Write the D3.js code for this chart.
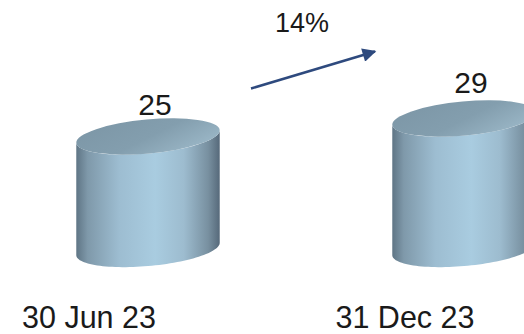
<!DOCTYPE html>
<html>
<head>
<meta charset="utf-8">
<script src="https://cdn.jsdelivr.net/npm/d3@7"></script>
<style>
  html, body { margin: 0; padding: 0; background: #fff; }
  #chart { width: 524px; height: 334px; overflow: hidden; }
  text { font-family: "Liberation Sans", Arial, sans-serif; fill: #1a1a1a; }
</style>
</head>
<body>
<div id="chart"></div>
<script>
// data
let categories = ['30 Jun 23', '31 Dec 23'];
let values = [25, 29];
let changeLabel = '14%';

function drawCylinders(id) {
  let width = 524, height = 334;

  let svg = d3.select('#' + id).append('svg')
    .attr('width', width)
    .attr('height', height);

  // cylinder centres and heights
  let x = d3.scalePoint()
    .domain(categories)
    .range([148, 464]);

  let baseline = 249;
  let y = d3.scaleLinear()
    .domain([0, 29])
    .range([baseline, 118.5]);

  // value labels sit a bit further back in the 3D view
  let yLabel = d3.scaleLinear()
    .domain([0, 29])
    .range([256, 92.5]);

  let a = 72, b = 17, tilt = -5.2 * Math.PI / 180;

  let defs = svg.append('defs');

  let side = defs.append('linearGradient')
    .attr('id', 'side')
    .attr('x1', 0).attr('x2', 1).attr('y1', 0).attr('y2', 0);
  [[0, '#5f7585'], [0.08, '#7f99aa'], [0.3, '#9dbdd1'], [0.55, '#a9cce0'],
   [0.75, '#9dbccf'], [0.92, '#7890a0'], [1, '#56697a']].forEach(s => {
    side.append('stop').attr('offset', s[0]).attr('stop-color', s[1]);
  });

  let top = defs.append('linearGradient')
    .attr('id', 'top')
    .attr('x1', 0).attr('x2', 1).attr('y1', 0).attr('y2', 0.6);
  [[0, '#7c96a6'], [0.6, '#839eae'], [1, '#97b3c3']].forEach(s => {
    top.append('stop').attr('offset', s[0]).attr('stop-color', s[1]);
  });

  // point on tilted ellipse
  function pt(cx, cy, t) {
    return [
      cx + a * Math.cos(t) * Math.cos(tilt) - b * Math.sin(t) * Math.sin(tilt),
      cy + a * Math.cos(t) * Math.sin(tilt) + b * Math.sin(t) * Math.cos(tilt)
    ];
  }

  let t0 = Math.atan(-b * Math.sin(tilt) / (a * Math.cos(tilt)));

  function bodyPath(cx, cyTop, cyBot) {
    let n = 60, pts = [];
    for (let i = 0; i <= n; i++) pts.push(pt(cx, cyTop, t0 + Math.PI * i / n));
    for (let i = n; i >= 0; i--) pts.push(pt(cx, cyBot, t0 + Math.PI * i / n));
    return d3.line()(pts) + 'Z';
  }

  let g = svg.selectAll('.cyl')
    .data(values)
    .enter()
    .append('g')
    .attr('class', 'cyl');

  g.append('path')
    .attr('d', (d, i) => bodyPath(x(categories[i]), y(d), baseline))
    .attr('fill', 'url(#side)');

  g.append('ellipse')
    .attr('cx', (d, i) => x(categories[i]))
    .attr('cy', d => y(d))
    .attr('rx', a)
    .attr('ry', b)
    .attr('transform', (d, i) => `rotate(${tilt * 180 / Math.PI},${x(categories[i])},${y(d)})`)
    .attr('fill', 'url(#top)');

  g.append('text')
    .text(d => d)
    .attr('x', (d, i) => x(categories[i]) + 7)
    .attr('y', d => yLabel(d))
    .attr('text-anchor', 'middle')
    .attr('font-size', 30);

  // category labels
  svg.selectAll('.cat')
    .data(categories)
    .enter()
    .append('text')
    .attr('class', 'cat')
    .text(d => d)
    .attr('x', d => x(d) - 59)
    .attr('y', 328)
    .attr('text-anchor', 'middle')
    .attr('font-size', 30.5);

  // growth arrow
  defs.append('marker')
    .attr('id', 'head')
    .attr('viewBox', '0 0 10 10')
    .attr('refX', 9).attr('refY', 5)
    .attr('markerWidth', 7).attr('markerHeight', 5.5)
    .attr('markerUnits', 'strokeWidth')
    .attr('orient', 'auto')
    .append('path')
    .attr('d', 'M0,0L10,5L0,10Z')
    .attr('fill', '#2e4a7e');

  let x1 = x(categories[0]) + a + 31, y1 = y(values[0]) - 48;
  let x2 = x(categories[1]) - a - 17, y2 = y(values[1]) - 67;

  svg.append('line')
    .attr('x1', x1).attr('y1', y1)
    .attr('x2', x2).attr('y2', y2)
    .attr('stroke', '#2e4a7e')
    .attr('stroke-width', 2.5)
    .attr('marker-end', 'url(#head)');

  svg.append('text')
    .text(changeLabel)
    .attr('x', (x1 + x2) / 2 - 11)
    .attr('y', 32)
    .attr('text-anchor', 'middle')
    .attr('font-size', 27);
}

drawCylinders('chart');
</script>
</body>
</html>
